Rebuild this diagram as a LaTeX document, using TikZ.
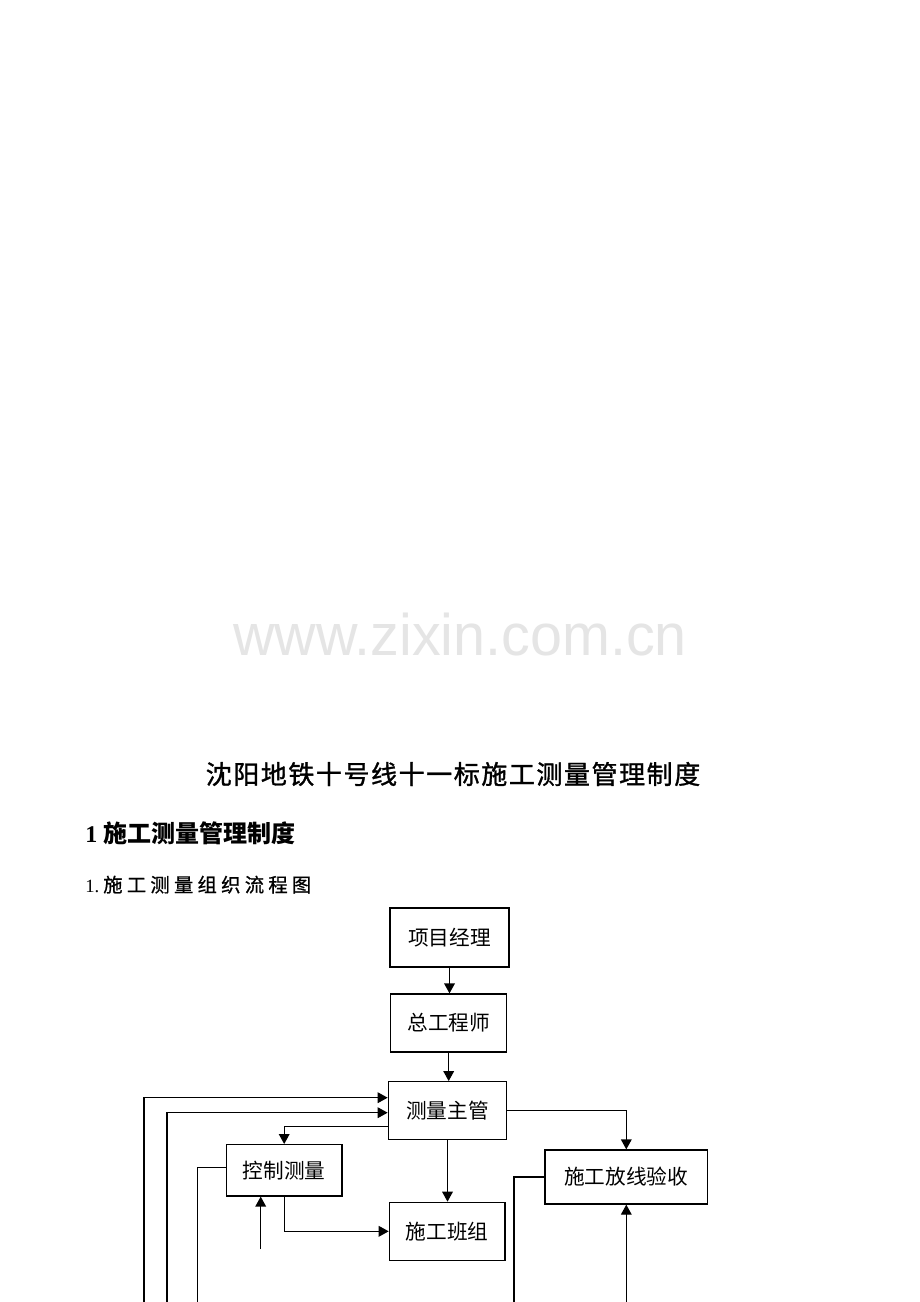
\documentclass[tikz,border=0pt]{standalone}
\usepackage{fontspec}
\setmainfont{Liberation Serif}
\newfontfamily\cjk{Noto Sans CJK SC}
\newfontfamily\wmfont{Liberation Sans}
\usetikzlibrary{arrows.meta}
\begin{document}
\begin{tikzpicture}[x=0.75pt,y=-0.75pt,
  box/.style={draw,line width=0.95pt,inner sep=0pt,font=\cjk\fontsize{15.5pt}{18pt}\selectfont},
  conn/.style={line width=0.95pt},
  arr/.style={conn,-{Triangle[length=7.5pt,width=8pt]}}]
\useasboundingbox (0,0) rectangle (920,1302);
\fill[white] (0,0) rectangle (920,1302);
% watermark
\node[text=black!10,font=\wmfont\fontsize{44pt}{50pt}\selectfont,xscale=0.98,inner sep=0] (wm) at (460,635) {www.zixin.com.cn};
% titles
\node[font=\cjk\addfontfeature{LetterSpace=6,FakeBold=1.2}\fontsize{19.5pt}{22pt}\selectfont,inner sep=0] (title) at (453,774) {沈阳地铁十号线十一标施工测量管理制度};
\node[anchor=base west,inner sep=0,font=\bfseries\fontsize{18pt}{22pt}\selectfont] (head) at (85,842) {1 {\cjk 施工测量管理制度}};
\node[anchor=base west,inner sep=0,font=\fontsize{14pt}{18pt}\selectfont] (sub) at (85,892) {1.\hspace{3pt}{\cjk\addfontfeature{LetterSpace=22,FakeBold=0.8}\fontsize{14.5pt}{18pt}\selectfont 施工测量组织流程图}};
% boxes
\node[box,minimum width=89.25pt,minimum height=44.25pt] (pm) at (449.5,937.5) {项目经理};
\node[box,minimum width=87pt,minimum height=43.5pt] (ce) at (448.7,1023) {总工程师};
\node[box,minimum width=88.8pt,minimum height=43.2pt] (sm) at (447.5,1110.5) {测量主管};
\node[box,minimum width=86.8pt,minimum height=38.5pt] (cm) at (284.2,1170.3) {控制测量};
\node[box,minimum width=86.8pt,minimum height=43.5pt] (cb) at (447.2,1231.3) {施工班组};
\node[box,minimum width=122pt,minimum height=40.5pt] (fx) at (626.3,1177) {施工放线验收};
% helper coordinates
\coordinate (l1) at (144,1302);
\coordinate (l2) at (167,1302);
\coordinate (l3) at (197.7,1302);
\coordinate (r1) at (514,1302);
\coordinate (r2) at (626.3,1302);
\coordinate (h1) at (0,1097.7);
\coordinate (h2) at (0,1112.7);
\coordinate (h3) at (0,1126.7);
\coordinate (h5) at (0,1167.7);
\coordinate (a0) at (260.7,1249);
% connectors
\draw[arr] (pm.south) -- (pm.south |- ce.north);
\draw[arr] (ce.south) -- (ce.south |- sm.north);
\draw[arr] (l1) |- (sm.west |- h1);
\draw[arr] (l2) |- (sm.west |- h2);
\draw[arr] (sm.west |- h3) -| (cm.north);
\draw[conn] (cm.west |- h5) -| (l3);
\draw[arr] (cm.south) |- (cb.west);
\draw[arr] (a0) -- (a0 |- cm.south);
\draw[arr] (sm.south) -- (sm.south |- cb.north);
\draw[arr] (sm.east) -| (fx.north);
\draw[conn] (fx.west) -| (r1);
\draw[arr] (r2) -- (fx.south);
\end{tikzpicture}
\end{document}
